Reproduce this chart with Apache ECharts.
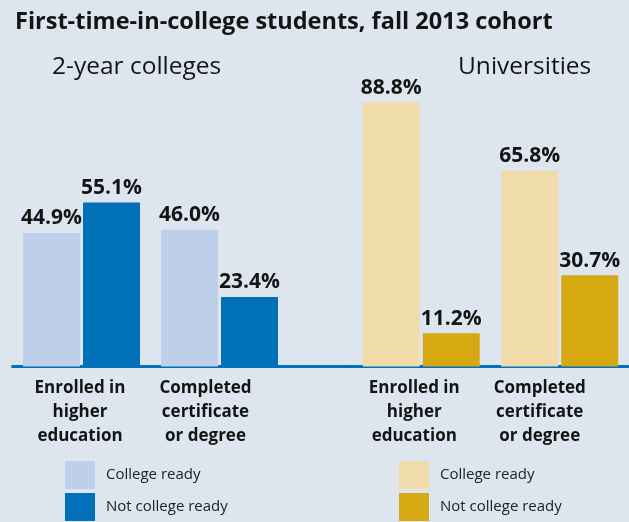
<!DOCTYPE html>
<html>
<head>
<meta charset="utf-8">
<title>First-time-in-college students, fall 2013 cohort</title>
<script src="https://cdn.jsdelivr.net/npm/echarts@6/dist/echarts.min.js"></script>
<style>
  html, body { margin: 0; padding: 0; background: #dde6ef; }
  #chart { width: 629px; height: 522px; }
</style>
</head>
<body>
<div id="chart"></div>
<script>
// outcome categories (same for both panels)
const categories = ['Enrolled in\nhigher\neducation', 'Completed\ncertificate\nor degree']
// percent of cohort, 2-year colleges
const collegeReady2yr = [44.9, 46.0]
const notReady2yr = [55.1, 23.4]
// percent of cohort, universities
const collegeReadyUniv = [88.8, 65.8]
const notReadyUniv = [11.2, 30.7]

const panelTitles = ['2-year colleges', 'Universities']
const legendNames = ['College ready', 'Not college ready']

const FONT = '"Open Sans", "Liberation Sans", sans-serif'
const TEXT = '#141414'

const blueLight = '#bdcfe9'
const blueDark = '#0070b9'
const goldLight = '#f0dcaa'
const goldDark = '#d6a912'

// left panel has a spare empty slot so its axis line runs into the right panel
const leftCats = categories.map((c, i) => ({
  value: c,
  textStyle: { padding: i === 1 ? [0, 28, 0, 0] : [0, 3, 0, 0] }
})).concat([''])
const rightCats = categories.map((c, i) => ({
  value: c,
  textStyle: { padding: i === 1 ? [0, 40, 0, 0] : [0, 14, 0, 0] }
}))

function axisX(gridIndex, data) {
  return {
    type: 'category',
    gridIndex,
    data,
    axisTick: { show: false },
    axisLine: { lineStyle: { color: blueDark, width: 3 } },
    axisLabel: {
      interval: 0,
      margin: 10,
      fontFamily: FONT,
      fontWeight: 'bold',
      fontSize: 17,
      lineHeight: 24,
      color: TEXT
    }
  }
}

function axisY(gridIndex) {
  return { type: 'value', gridIndex, min: 0, max: 100, show: false, splitLine: { show: false } }
}

function barSeries(name, data, color, idx) {
  return {
    name,
    type: 'bar',
    xAxisIndex: idx,
    yAxisIndex: idx,
    data,
    barWidth: 57,
    barGap: '5.3%',
    itemStyle: { color },
    label: {
      show: true,
      position: 'top',
      distance: 4,
      fontFamily: FONT,
      fontWeight: 'bold',
      fontSize: 21,
      color: TEXT,
      formatter: p => p.value.toFixed(1) + '%'
    }
  }
}

function legendBox(left, names) {
  return {
    orient: 'vertical',
    left,
    top: 461,
    padding: 0,
    icon: 'rect',
    itemWidth: 30,
    itemHeight: 28,
    itemGap: 4,
    data: names,
    selectedMode: false,
    formatter: n => n.replace('Univ ', ''),
    textStyle: { fontFamily: FONT, fontSize: 15, color: '#222', padding: [0, 0, 0, 6] }
  }
}

const chart = echarts.init(document.getElementById('chart'))

chart.setOption({
  backgroundColor: '#dde6ef',
  animation: false,
  title: [
    {
      text: 'First-time-in-college students, fall 2013 cohort',
      left: 15,
      top: 10,
      padding: 0,
      textStyle: { fontFamily: FONT, fontWeight: 'bold', fontSize: 23.5, color: TEXT }
    },
    {
      text: panelTitles[0],
      left: 52,
      top: 55,
      padding: 0,
      textStyle: { fontFamily: FONT, fontWeight: 'normal', fontSize: 24.5, color: TEXT }
    },
    {
      text: panelTitles[1],
      left: 458,
      top: 55,
      padding: 0,
      textStyle: { fontFamily: FONT, fontWeight: 'normal', fontSize: 24.5, color: TEXT }
    }
  ],
  grid: [
    { left: 12.5, width: 414, top: 69, bottom: 155.5 },
    { left: 352, width: 278, top: 69, bottom: 155.5 }
  ],
  xAxis: [axisX(0, leftCats), axisX(1, rightCats)],
  yAxis: [axisY(0), axisY(1)],
  legend: [
    legendBox(65, legendNames),
    legendBox(399, legendNames.map(n => 'Univ ' + n))
  ],
  series: [
    barSeries(legendNames[0], collegeReady2yr.concat(['-']), blueLight, 0),
    barSeries(legendNames[1], notReady2yr.concat(['-']), blueDark, 0),
    barSeries('Univ ' + legendNames[0], collegeReadyUniv, goldLight, 1),
    barSeries('Univ ' + legendNames[1], notReadyUniv, goldDark, 1)
  ]
})
</script>
</body>
</html>
